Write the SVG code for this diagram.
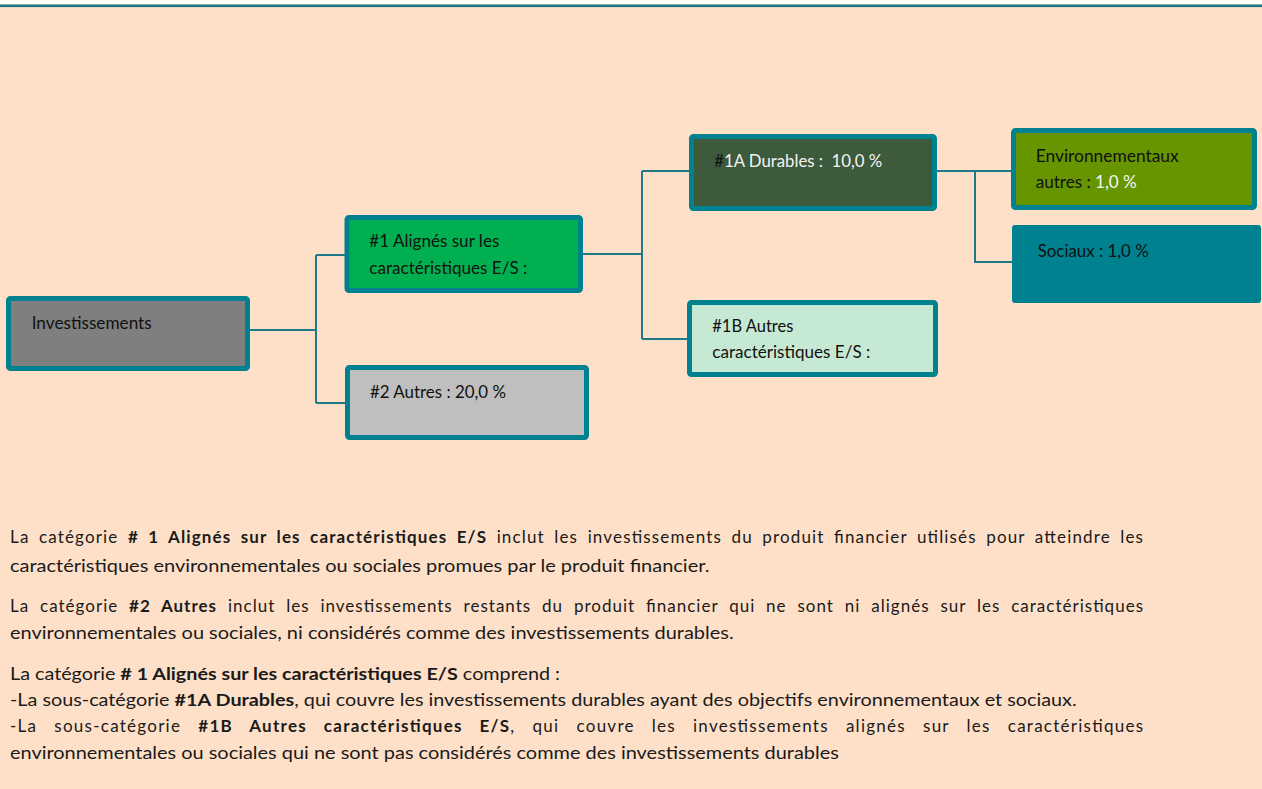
<svg xmlns="http://www.w3.org/2000/svg" width="1262" height="789" viewBox="0 0 1262 789">
<style>
.box{stroke:#00818F;stroke-width:5}
.t{font-family:Lato,"Liberation Sans",sans-serif;font-size:17px;fill:#111}
.w{fill:#F4F4F4}
.p{font-family:Lato,"Liberation Sans",sans-serif;font-size:17px;fill:#1a1a1a}
.b{font-weight:bold}
.con{fill:none;stroke:#1E7A87;stroke-width:2}
</style>
<rect x="0" y="0" width="1262" height="789" fill="#FEE0C8"/>
<rect x="0" y="0" width="1262" height="4.5" fill="#FFFFFF"/>
<rect x="0" y="4.5" width="1262" height="2.6" fill="#1A7584"/>

<g id="connectors">
<path class="con" d="M250,330 H316 M316,255 V403 M316,255 H345 M316,403 H345"/>
<path class="con" d="M583,254 H642 M642,171 V339 M642,171 H690 M642,339 H697"/>
<path class="con" d="M937,171 H1012 M975,171 V262 H1013"/>
</g>

<g id="investissements">
<rect class="box" x="8.5" y="298.5" width="239" height="70" rx="2" fill="#7F7F7F"/>
<text class="t" x="31.7" y="329.3" textLength="120" lengthAdjust="spacingAndGlyphs">Investissements</text>
</g>

<g id="n1">
<rect class="box" x="347" y="217.5" width="233.5" height="73" rx="2" fill="#00B050"/>
<text class="t" x="369.3" y="247.3" textLength="130" lengthAdjust="spacingAndGlyphs">#1 Alignés sur les</text>
<text class="t" x="369.3" y="274" textLength="158" lengthAdjust="spacingAndGlyphs">caractéristiques E/S :</text>
</g>

<g id="n2">
<rect class="box" x="347.5" y="367.5" width="239" height="70" rx="2" fill="#BFBFBF"/>
<text class="t" x="370" y="397.7" textLength="136" lengthAdjust="spacingAndGlyphs">#2 Autres : 20,0 %</text>
</g>

<g id="n1a">
<rect class="box" x="691.5" y="136.5" width="243" height="72" rx="2" fill="#3E5A3C"/>
<text class="t" x="714.3" y="166.7" textLength="168" lengthAdjust="spacingAndGlyphs" xml:space="preserve">#<tspan class="w">1A Durables :  10,0 %</tspan></text>
</g>

<g id="n1b">
<rect class="box" x="689.5" y="302.5" width="246" height="72" rx="2" fill="#C6E9D3"/>
<text class="t" x="712.3" y="332.3" textLength="81" lengthAdjust="spacingAndGlyphs">#1B Autres</text>
<text class="t" x="712.3" y="358.3" textLength="158" lengthAdjust="spacingAndGlyphs">caractéristiques E/S :</text>
</g>

<g id="env">
<rect class="box" x="1013.5" y="130.5" width="241" height="77" rx="2" fill="#669500"/>
<text class="t" x="1035.7" y="161.7" textLength="143" lengthAdjust="spacingAndGlyphs">Environnementaux</text>
<text class="t" x="1035.7" y="187.7" textLength="101" lengthAdjust="spacingAndGlyphs">autres : <tspan class="w">1,0 %</tspan></text>
</g>

<g id="sociaux">
<rect x="1012.5" y="225.5" width="248" height="77" rx="2" fill="#00818F" stroke="#00818F" stroke-width="1"/>
<text class="t" x="1037.7" y="257.3" textLength="111" lengthAdjust="spacingAndGlyphs">Sociaux : 1,0 %</text>
</g>

<g id="texte">
<text class="p" x="10" y="543" word-spacing="4" textLength="1133" lengthAdjust="spacing">La catégorie <tspan class="b"># 1 Alignés sur les caractéristiques E/S</tspan> inclut les investissements du produit financier utilisés pour atteindre les</text>
<text class="p" x="10" y="571.5" textLength="699.4" lengthAdjust="spacingAndGlyphs">caractéristiques environnementales ou sociales promues par le produit financier.</text>
<text class="p" x="10" y="611.5" word-spacing="5.5" textLength="1133" lengthAdjust="spacing">La catégorie <tspan class="b">#2 Autres</tspan> inclut les investissements restants du produit financier qui ne sont ni alignés sur les caractéristiques</text>
<text class="p" x="10" y="638.5" textLength="723.6" lengthAdjust="spacingAndGlyphs">environnementales ou sociales, ni considérés comme des investissements durables.</text>
<text class="p" x="10" y="680" textLength="550" lengthAdjust="spacingAndGlyphs">La catégorie <tspan class="b"># 1 Alignés sur les caractéristiques E/S</tspan> comprend :</text>
<text class="p" x="10" y="706" textLength="1066.6" lengthAdjust="spacingAndGlyphs">-La sous-catégorie <tspan class="b">#1A Durables</tspan>, qui couvre les investissements durables ayant des objectifs environnementaux et sociaux.</text>
<text class="p" x="10" y="731.5" word-spacing="11.5" textLength="1133" lengthAdjust="spacing">-La sous-catégorie <tspan class="b">#1B Autres caractéristiques E/S</tspan>, qui couvre les investissements alignés sur les caractéristiques</text>
<text class="p" x="10" y="758.5" textLength="828.8" lengthAdjust="spacingAndGlyphs">environnementales ou sociales qui ne sont pas considérés comme des investissements durables</text>
</g>
</svg>
